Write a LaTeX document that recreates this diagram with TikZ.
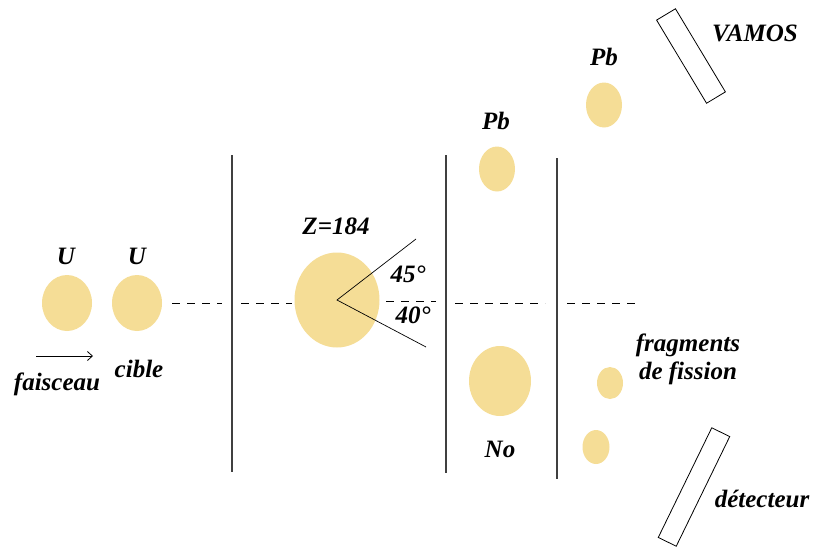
\documentclass[tikz,border=0pt]{standalone}
\usepackage{fontspec}
\setmainfont{Liberation Serif}
\usetikzlibrary{shapes.geometric,arrows.meta}
\definecolor{noyau}{RGB}{245,221,150}

\begin{document}
\begin{tikzpicture}[x=1pt,y=-1pt]
  \tikzset{nucleus/.style = {shape=ellipse,fill=noyau,draw=none,inner sep=0pt}}
  \tikzset{lbl/.style = {font=\fontsize{25}{28}\selectfont\bfseries\itshape,inner sep=1pt}}
  \tikzset{screen/.style = {line width=1.3pt,draw=black!75}}
  \tikzset{axis/.style = {dashed,dash pattern=on 8pt off 7pt,line width=0.8pt}}
  \tikzset{boxdet/.style = {shape=rectangle,draw,line width=0.8pt,inner sep=0pt}}
  \useasboundingbox (0,0) rectangle (817,549);

	% faisceau et cible
	\node[nucleus,minimum width=50pt,minimum height=56pt] (u1) at (67,303) {};
	\node[nucleus,minimum width=50pt,minimum height=56pt] (u2) at (137,303) {};
	\node[lbl] (u1l) at (66,256) {U};
	\node[lbl] (u2l) at (137,256) {U};
	\coordinate (fa) at (36,356);
	\coordinate (fb) at (93,356);
	\draw[-{Straight Barb[length=5pt,width=9pt]},line width=0.8pt] (fa) -- (fb);
	\node[lbl] (fais) at (57,384) {faisceau};
	\node[lbl] (cible) at (139,369) {cible};

	% noyau compose
	\node[nucleus,minimum width=85pt,minimum height=95pt] (z) at (337,300) {};
	\node[lbl] (zl) at (336,226) {Z=184};
	\coordinate (a45) at (416,239);
	\coordinate (a40) at (426,347);
	\draw[line width=0.7pt] (a45) -- (z.center) -- (a40);
	\node[lbl] (l45) at (408,274) {45°};
	\node[lbl] (l40) at (413,315) {40°};

	% voies de sortie
	\node[nucleus,minimum width=36pt,minimum height=45pt] (pb1) at (497,169) {};
	\node[lbl] (pb1l) at (496,121) {Pb};
	\node[nucleus,minimum width=36pt,minimum height=45pt] (pb2) at (604,105) {};
	\node[lbl] (pb2l) at (604,57) {Pb};
	\node[nucleus,minimum width=62pt,minimum height=70pt] (no) at (500,381) {};
	\node[lbl] (nol) at (500,449) {No};
	\node[nucleus,minimum width=26pt,minimum height=32pt] (ff1) at (610,383) {};
	\node[nucleus,minimum width=27pt,minimum height=34pt] (ff2) at (596,447) {};
	\node[lbl,align=center] (ffl) at (688,359) {fragments\\de fission};

	% detecteurs
	\node[boxdet,minimum width=97pt,minimum height=22pt,rotate=-59] (vamos) at (691,56) {};
	\node[lbl] (vamosl) at (755,33) {VAMOS};
	\node[boxdet,minimum width=122pt,minimum height=20pt,rotate=64] (det) at (694,487) {};
	\node[lbl] (detl) at (762,499) {détecteur};

	% ecrans et axe
	\draw[screen] (232,155) -- (232,472);
	\draw[screen] (446,155) -- (446,473);
	\draw[screen] (557,158) -- (557,479);
	\draw[axis] (172,303) -- (222,303);
	\draw[axis] (241,303) -- (292,303);
	\draw[axis] (386,301) -- (436,301);
	\draw[axis] (455,303) -- (545,303);
	\draw[axis] (567,303) -- (640,303);
\end{tikzpicture}
\end{document}
